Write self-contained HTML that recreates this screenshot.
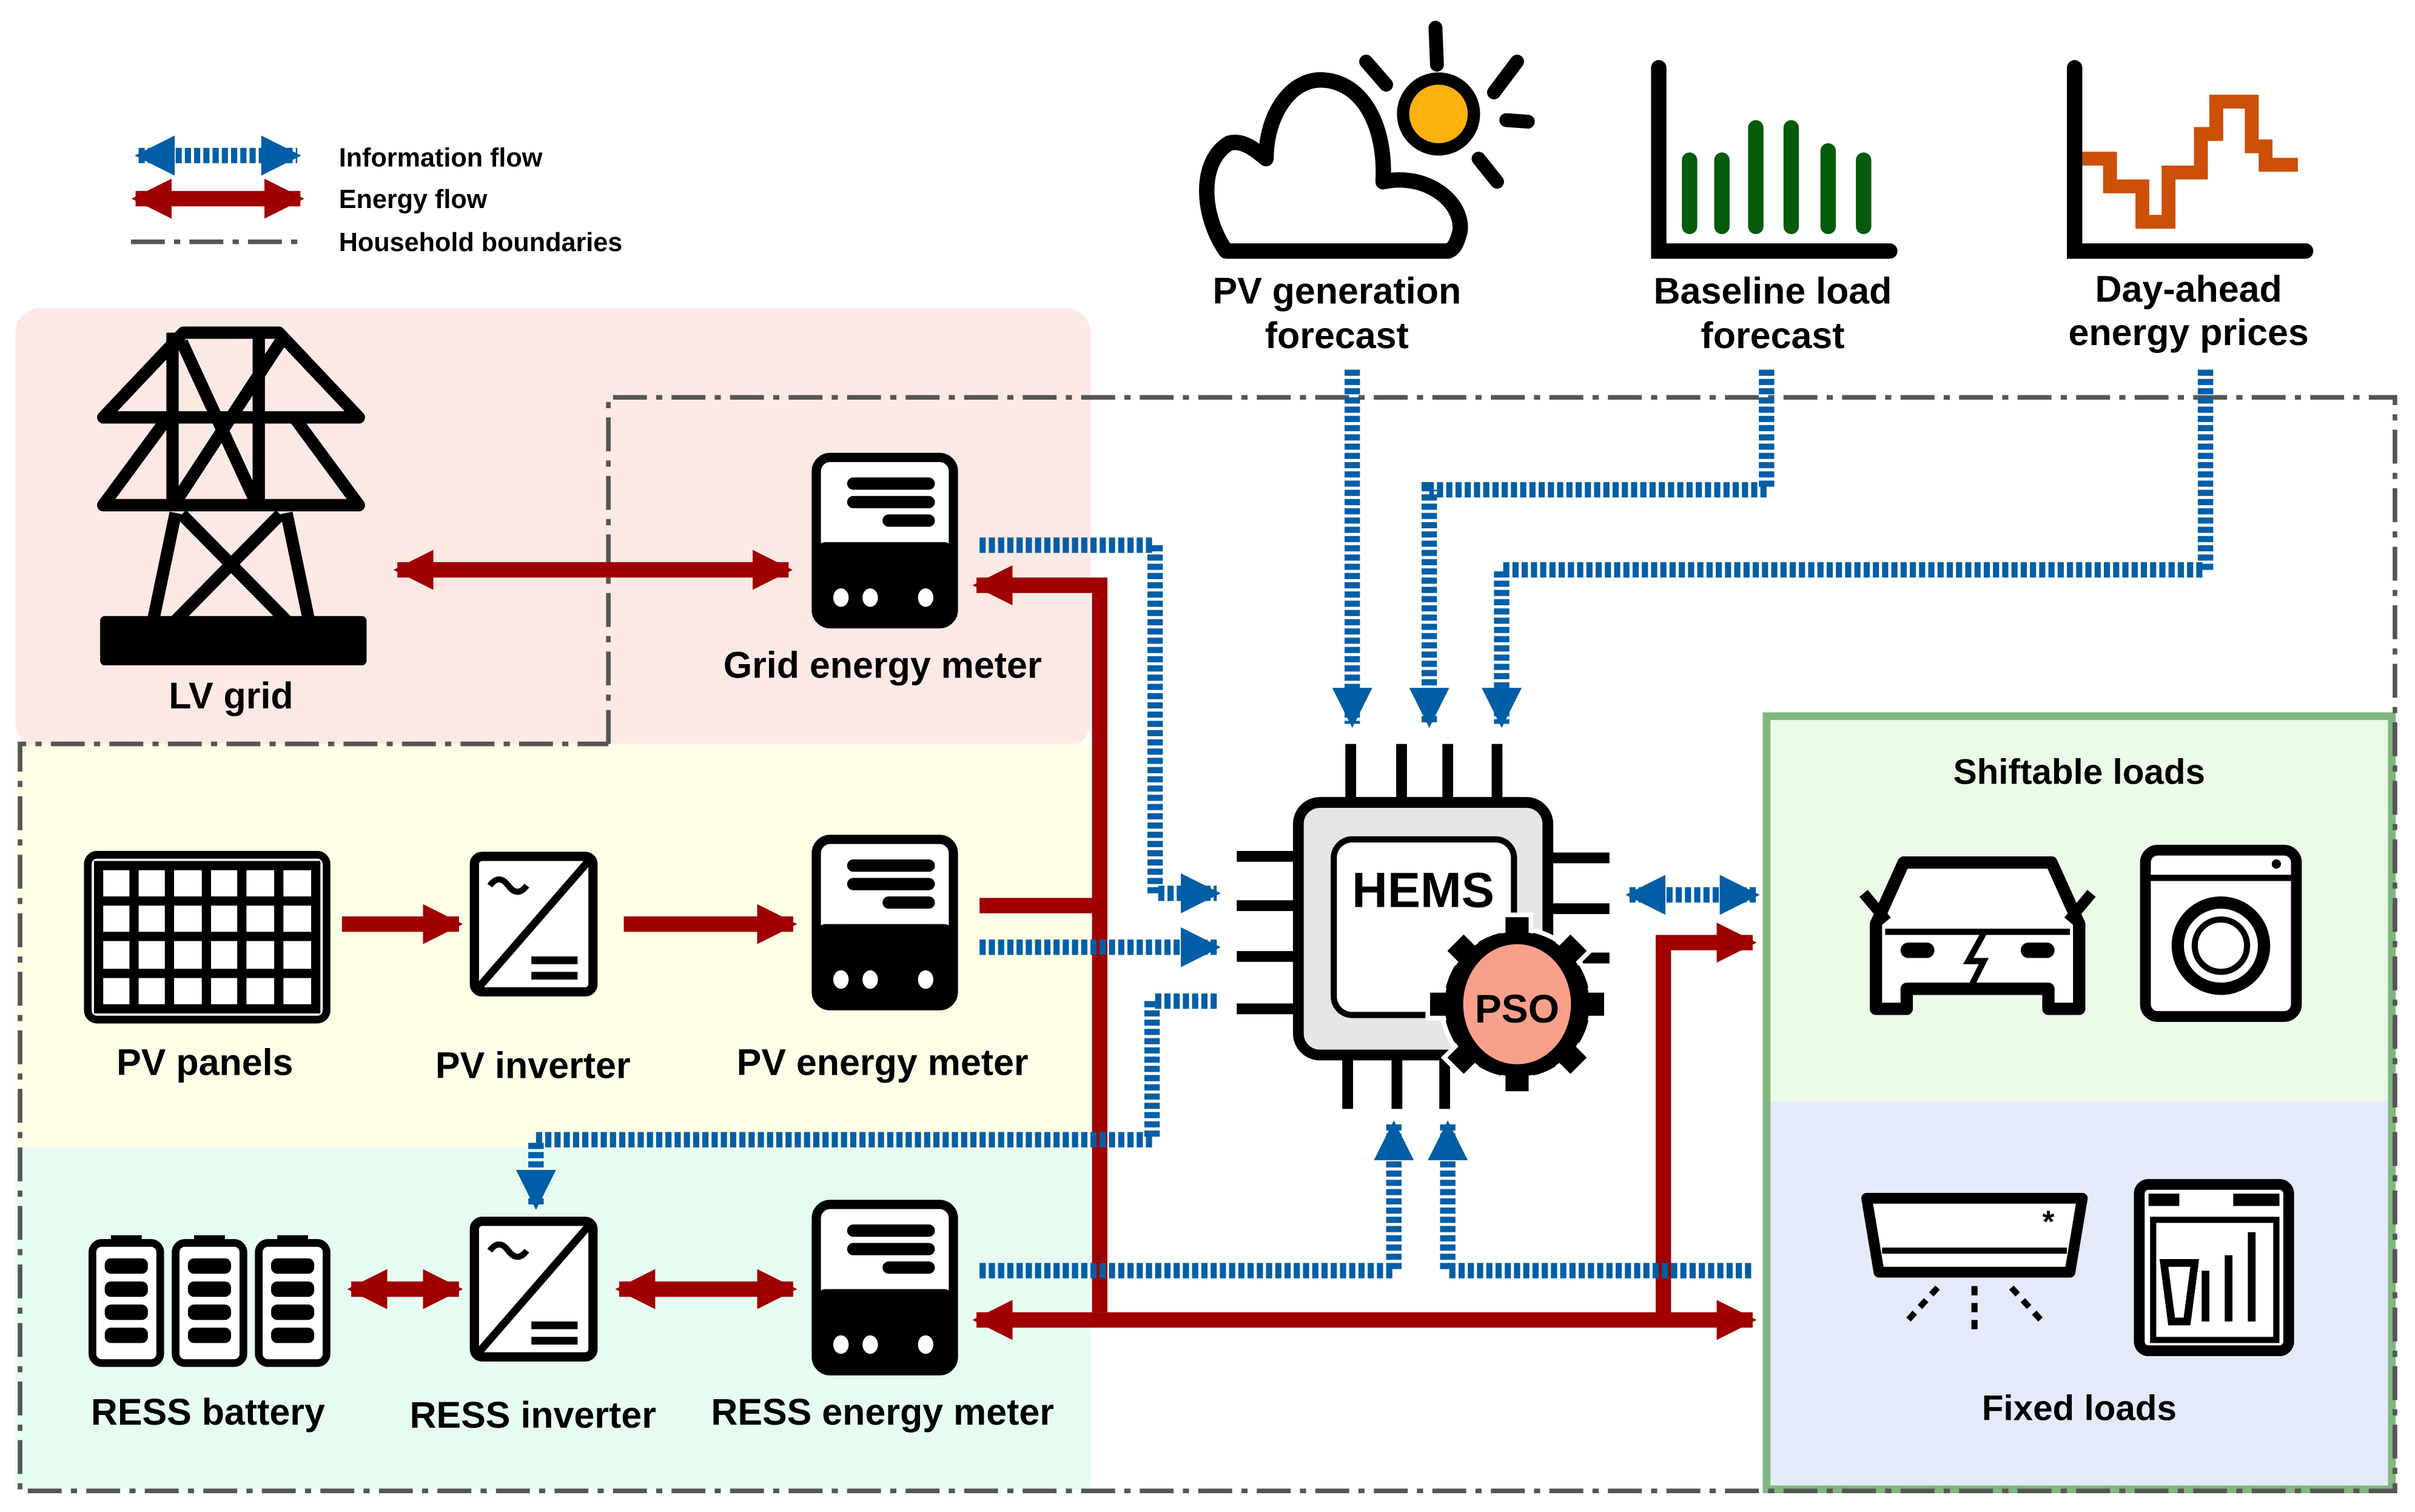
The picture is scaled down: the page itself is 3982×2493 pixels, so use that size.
<!DOCTYPE html>
<html><head><meta charset="utf-8"><style>
html,body{margin:0;padding:0;background:#fff}
svg{display:block}
text{font-family:"Liberation Sans",sans-serif;font-weight:bold;fill:#000}
</style></head><body>
<svg width="3982" height="2493" viewBox="0 0 1568 981.7" xmlns="http://www.w3.org/2000/svg">
<defs>
<marker id="bh" viewBox="0 0 10 10" refX="9" refY="5" markerWidth="2.6" markerHeight="2.6" orient="auto-start-reverse"><path d="M0,0 L10,5 L0,10 Z" fill="#005ea6"/></marker>
<marker id="rh" viewBox="0 0 10 10" refX="9" refY="5" markerWidth="2.6" markerHeight="2.6" orient="auto-start-reverse"><path d="M0,0 L10,5 L0,10 Z" fill="#a00000"/></marker>
</defs>
<rect x="10" y="200" width="698" height="285" rx="16" fill="#fde9e4"/>
<rect x="10" y="483" width="698" height="264" fill="#fefde6"/>
<rect x="10" y="745" width="698" height="222" fill="#e6fcf1"/>
<rect x="1147" y="465" width="406" height="250" fill="#eafbe6"/>
<rect x="1147" y="715" width="406" height="252" fill="#e5eafb"/>
<rect x="1147" y="465" width="406" height="502" fill="none" stroke="#7fb77e" stroke-width="5"/>
<path d="M395,483 V258 H1555 V968 H13 V483 H395" fill="none" stroke="#555" stroke-width="3" stroke-dasharray="22 6 4 6"/>
<line x1="90" y1="101" x2="193" y2="101" stroke="#005ea6" stroke-width="10" stroke-dasharray="4 2" marker-start="url(#bh)" marker-end="url(#bh)"/>
<line x1="88" y1="129" x2="195" y2="129" stroke="#a00000" stroke-width="10" marker-start="url(#rh)" marker-end="url(#rh)"/>
<line x1="85" y1="157" x2="198" y2="157" stroke="#555" stroke-width="3" stroke-dasharray="22 6 4 6"/>
<text x="220" y="108" font-size="17">Information flow</text>
<text x="220" y="135" font-size="17">Energy flow</text>
<text x="220" y="163" font-size="17">Household boundaries</text>

<g stroke="#a00000" stroke-width="10" fill="none">
<line x1="258" y1="370" x2="512" y2="370" marker-start="url(#rh)" marker-end="url(#rh)"/>
<path d="M714,852 V380 H634" marker-end="url(#rh)"/>
<path d="M636,588 H714"/>
<line x1="634" y1="857" x2="1138" y2="857" marker-start="url(#rh)" marker-end="url(#rh)"/>
<path d="M1080,857 V612 H1138" marker-end="url(#rh)"/>
<line x1="222" y1="600" x2="298" y2="600" marker-end="url(#rh)"/>
<line x1="405" y1="600" x2="515" y2="600" marker-end="url(#rh)"/>
<line x1="228" y1="837" x2="298" y2="837" marker-start="url(#rh)" marker-end="url(#rh)"/>
<line x1="402" y1="837" x2="515" y2="837" marker-start="url(#rh)" marker-end="url(#rh)"/>
</g>
<g stroke="#005ea6" stroke-width="10" fill="none" stroke-dasharray="4 2">
<path d="M636,354 H750 V580 H790" marker-end="url(#bh)"/>
<path d="M636,615 H790" marker-end="url(#bh)"/>
<path d="M790,650 H748 V740 H348 V783" marker-end="url(#bh)"/>
<path d="M636,825 H905 V730" marker-end="url(#bh)"/>
<path d="M1137,825 H940 V730" marker-end="url(#bh)"/>
<line x1="1058" y1="581" x2="1140" y2="581" marker-start="url(#bh)" marker-end="url(#bh)"/>
<path d="M878,240 V470" marker-end="url(#bh)"/>
<path d="M1147,240 V318 H928 V470" marker-end="url(#bh)"/>
<path d="M1432,240 V370 H975 V470" marker-end="url(#bh)"/>
</g>

<!-- tower -->
<g stroke="#000" stroke-width="8" fill="none" stroke-linejoin="round">
<path d="M119,216 H181 L233,271 H67 Z"/>
<path d="M109,271 L67,328 H233 L191,271"/>
<path d="M112,216 V328 M168,216 V328"/>
<path d="M118,222 L166,326 M182,222 L114,326"/>
<path d="M114,333 L99,405 M186,333 L201,405"/>
<path d="M118,334 L188,405 M182,334 L112,405"/>
</g>
<rect x="65" y="400" width="173" height="32" rx="3" fill="#000"/>
<text x="150" y="460" font-size="24" text-anchor="middle">LV grid</text>

<g id="m">
<rect x="530" y="297" width="89" height="108" rx="9" fill="#fff" stroke="#000" stroke-width="6"/>
<rect x="530" y="352" width="89" height="53" rx="6" fill="#000"/>
<rect x="550" y="310" width="57" height="8" rx="4" fill="#000"/>
<rect x="550" y="322" width="57" height="8" rx="4" fill="#000"/>
<rect x="573" y="334" width="34" height="8" rx="4" fill="#000"/>
<ellipse cx="546" cy="388" rx="5" ry="6" fill="#fff"/><ellipse cx="565" cy="388" rx="5" ry="6" fill="#fff"/><ellipse cx="601" cy="388" rx="5" ry="6" fill="#fff"/>
</g>
<use href="#m" y="248"/>
<use href="#m" y="485"/>
<text x="573" y="440" font-size="24" text-anchor="middle">Grid energy meter</text>
<text x="573" y="698" font-size="24" text-anchor="middle">PV energy meter</text>
<text x="573" y="925" font-size="24" text-anchor="middle">RESS energy meter</text>

<rect x="57" y="555" width="155" height="107" rx="6" fill="#fff" stroke="#000" stroke-width="5"/>
<rect x="64" y="562" width="141" height="93" fill="none" stroke="#000" stroke-width="6"/>
<g stroke="#000" stroke-width="6">
<line x1="87" y1="562" x2="87" y2="655"/><line x1="110" y1="562" x2="110" y2="655"/><line x1="134" y1="562" x2="134" y2="655"/><line x1="157" y1="562" x2="157" y2="655"/><line x1="181" y1="562" x2="181" y2="655"/>
<line x1="64" y1="585" x2="205" y2="585"/><line x1="64" y1="608" x2="205" y2="608"/><line x1="64" y1="632" x2="205" y2="632"/>
</g>
<text x="133" y="698" font-size="24" text-anchor="middle">PV panels</text>

<g id="inv">
<rect x="308" y="556" width="77" height="88" rx="5" fill="#fff" stroke="#000" stroke-width="6"/>
<line x1="310" y1="642" x2="383" y2="558" stroke="#000" stroke-width="5"/>
<path d="M318,575 q6,-8 12,0 q6,8 12,0" stroke="#000" stroke-width="4" fill="none"/>
<rect x="345" y="621" width="30" height="5" fill="#000"/><rect x="345" y="631" width="30" height="5" fill="#000"/>
</g>
<use href="#inv" y="237"/>
<text x="346" y="700" font-size="24" text-anchor="middle">PV inverter</text>
<text x="346" y="927" font-size="24" text-anchor="middle">RESS inverter</text>

<g id="bat">
<rect x="72" y="802" width="20" height="6" fill="#000"/>
<rect x="60" y="807" width="44" height="78" rx="6" fill="#fff" stroke="#000" stroke-width="5"/>
<rect x="68" y="817" width="28" height="10" rx="4" fill="#000"/>
<rect x="68" y="832" width="28" height="10" rx="4" fill="#000"/>
<rect x="68" y="847" width="28" height="10" rx="4" fill="#000"/>
<rect x="68" y="862" width="28" height="10" rx="4" fill="#000"/>
</g>
<use href="#bat" x="54"/><use href="#bat" x="108"/>
<text x="135" y="925" font-size="24" text-anchor="middle">RESS battery</text>

<g stroke="#000" stroke-width="7">
<line x1="877" y1="483" x2="877" y2="520"/><line x1="910" y1="483" x2="910" y2="520"/><line x1="940" y1="483" x2="940" y2="520"/><line x1="972" y1="483" x2="972" y2="520"/>
<line x1="875" y1="688" x2="875" y2="720"/><line x1="907" y1="688" x2="907" y2="720"/><line x1="938" y1="688" x2="938" y2="720"/>
<line x1="803" y1="556" x2="842" y2="556"/><line x1="803" y1="588" x2="842" y2="588"/><line x1="803" y1="621" x2="842" y2="621"/><line x1="803" y1="655" x2="842" y2="655"/>
<line x1="1005" y1="557" x2="1045" y2="557"/><line x1="1005" y1="590" x2="1045" y2="590"/><line x1="1005" y1="622" x2="1045" y2="622"/>
</g>
<rect x="843" y="521" width="162" height="164" rx="14" fill="#e6e6e6" stroke="#000" stroke-width="7"/>
<rect x="866" y="545" width="117" height="114" rx="12" fill="#fff" stroke="#000" stroke-width="4"/>
<text x="924" y="589" font-size="32" text-anchor="middle">HEMS</text>
<g transform="translate(985,652)">
<circle r="49" fill="#000" stroke="#fff" stroke-width="3"/>
<g fill="#000" stroke="#fff" stroke-width="3">
<rect x="-9" y="-58" width="18" height="16" transform="rotate(0)"/>
<rect x="-9" y="-58" width="18" height="16" transform="rotate(45)"/>
<rect x="-9" y="-58" width="18" height="16" transform="rotate(90)"/>
<rect x="-9" y="-58" width="18" height="16" transform="rotate(135)"/>
<rect x="-9" y="-58" width="18" height="16" transform="rotate(180)"/>
<rect x="-9" y="-58" width="18" height="16" transform="rotate(225)"/>
<rect x="-9" y="-58" width="18" height="16" transform="rotate(270)"/>
<rect x="-9" y="-58" width="18" height="16" transform="rotate(315)"/>
</g>
<circle r="47" fill="#000"/>
<ellipse rx="35" ry="39" fill="#f9a08a"/>
<text x="0" y="12" font-size="26" text-anchor="middle">PSO</text>
</g>

<g stroke="#000" stroke-width="9" stroke-linecap="round">
<line x1="932" y1="18" x2="933" y2="42"/><line x1="887" y1="40" x2="900" y2="55"/><line x1="985" y1="40" x2="970" y2="60"/><line x1="978" y1="78" x2="992" y2="79"/><line x1="960" y1="103" x2="972" y2="118"/>
</g>
<circle cx="934" cy="74" r="23" fill="#fdb20d" stroke="#000" stroke-width="8"/>
<path d="M796,163 C780,140 778,105 798,93 C808,90 818,100 822,103 C822,75 838,50 860,52 C885,54 900,82 898,118 C925,112 950,130 948,150 C946,158 944,162 940,163 Z" fill="#fff" stroke="#000" stroke-width="10" stroke-linejoin="round"/>
<text x="868" y="197" font-size="24" text-anchor="middle">PV generation</text>
<text x="868" y="226" font-size="24" text-anchor="middle">forecast</text>

<path d="M1077,44 V163 H1227" fill="none" stroke="#000" stroke-width="10" stroke-linecap="round"/>
<g stroke="#045c0a" stroke-width="10" stroke-linecap="round">
<line x1="1097" y1="104" x2="1097" y2="147"/><line x1="1118" y1="104" x2="1118" y2="147"/><line x1="1140" y1="83" x2="1140" y2="147"/><line x1="1163" y1="83" x2="1163" y2="147"/><line x1="1187" y1="98" x2="1187" y2="147"/><line x1="1210" y1="104" x2="1210" y2="147"/>
</g>
<text x="1151" y="197" font-size="24" text-anchor="middle">Baseline load</text>
<text x="1151" y="226" font-size="24" text-anchor="middle">forecast</text>

<path d="M1347,44 V163 H1497" fill="none" stroke="#000" stroke-width="10" stroke-linecap="round"/>
<path d="M1352,103 H1370 V121 H1391 V144 H1408 V112 H1429 V87 H1439 V66 H1462 V95 H1471 V107 H1492" fill="none" stroke="#cc4f06" stroke-width="9"/>
<text x="1421" y="196" font-size="24" text-anchor="middle">Day-ahead</text>
<text x="1421" y="224" font-size="24" text-anchor="middle">energy prices</text>

<text x="1350" y="509" font-size="23" text-anchor="middle">Shiftable loads</text>
<path d="M1218,600 L1236,560 H1332 L1350,600 V655 H1330 V642 H1238 V655 H1218 Z" fill="#fff" stroke="#000" stroke-width="8" stroke-linejoin="round"/>
<path d="M1210,580 L1225,598 M1358,580 L1343,598" stroke="#000" stroke-width="7"/>
<line x1="1224" y1="605" x2="1344" y2="605" stroke="#000" stroke-width="4"/>
<rect x="1234" y="612" width="22" height="10" rx="5" fill="#000"/><rect x="1312" y="612" width="22" height="10" rx="5" fill="#000"/>
<path d="M1288,606 L1278,624 H1288 L1280,640" stroke="#000" stroke-width="4" fill="none"/>
<rect x="1393" y="552" width="98" height="108" rx="8" fill="#fff" stroke="#000" stroke-width="7"/>
<line x1="1393" y1="570" x2="1491" y2="570" stroke="#000" stroke-width="4"/>
<circle cx="1442" cy="614" r="28" fill="none" stroke="#000" stroke-width="8"/>
<circle cx="1442" cy="614" r="17" fill="none" stroke="#000" stroke-width="4"/>
<circle cx="1478" cy="561" r="3" fill="#000"/>
<path d="M1212,778 H1352 L1344,826 H1220 Z" fill="#fff" stroke="#000" stroke-width="7" stroke-linejoin="round"/>
<line x1="1222" y1="812" x2="1342" y2="812" stroke="#000" stroke-width="4"/>
<text x="1330" y="800" font-size="20" text-anchor="middle">*</text>
<g stroke="#000" stroke-width="4" stroke-dasharray="6 5"><line x1="1282" y1="835" x2="1282" y2="866"/><line x1="1258" y1="836" x2="1238" y2="858"/><line x1="1306" y1="836" x2="1326" y2="858"/></g>
<rect x="1389" y="769" width="97" height="108" rx="6" fill="#fff" stroke="#000" stroke-width="7"/>
<rect x="1395" y="775" width="20" height="8" fill="#000"/><rect x="1450" y="775" width="30" height="8" fill="#000"/>
<rect x="1398" y="792" width="80" height="78" fill="none" stroke="#000" stroke-width="4"/>
<path d="M1405,820 H1425 L1420,858 H1410 Z M1432,825 V858 M1447,815 V858 M1462,800 V858" stroke="#000" stroke-width="5" fill="none"/>
<text x="1350" y="922" font-size="23" text-anchor="middle">Fixed loads</text>
</svg>
</body></html>
